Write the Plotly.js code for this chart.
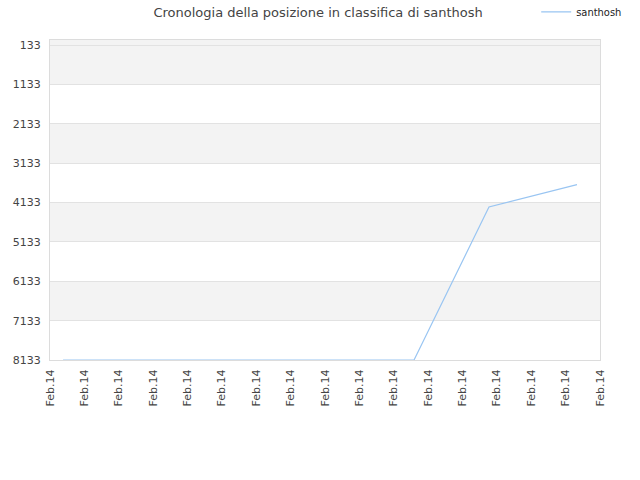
<!DOCTYPE html>
<html>
<head>
<meta charset="utf-8">
<script src="https://cdn.plot.ly/plotly-3.0.1.min.js"></script>
<style>
  html, body { margin: 0; padding: 0; background: #fff; }
  #chart { width: 640px; height: 480px; }
</style>
</head>
<body>
<div id="chart"></div>
<script>
// ----- data -----
const playerName = "santhosh";
const tickPositions = [0, 1, 2, 3, 4, 5, 6, 7, 8, 9, 10, 11, 12, 13, 14, 15, 16];
const tickLabels = tickPositions.map(() => "Feb.14");
const timeValues = [0.38, 10.59, 12.77, 15.33];   // position along the time axis
const rankValues = [8133, 8133, 4245, 3676];      // classifica (lower = better)
const rankTicks = [133, 1133, 2133, 3133, 4133, 5133, 6133, 7133, 8133];

// ----- alternating bands (gray / white) between rank ticks -----
const bands = [];
bands.push({ y0: 0, y1: rankTicks[0] });
for (let i = 0; i < rankTicks.length - 1; i += 2) {
  bands.push({ y0: rankTicks[i], y1: rankTicks[i + 1] });
}
const shapes = bands.map(b => ({
  type: "rect", xref: "paper", yref: "y",
  x0: 0, x1: 1, y0: b.y0, y1: b.y1,
  fillcolor: "#f3f3f3", line: { width: 0 }, layer: "below"
}));

const trace = {
  name: playerName,
  type: "scatter",
  mode: "lines",
  x: timeValues,
  y: rankValues,
  line: { color: "#99c5f2", width: 1.2 },
  hoverinfo: "skip"
};

const layout = {
  width: 640, height: 480,
  margin: { l: 50, r: 40, t: 40, b: 120, autoexpand: false },
  paper_bgcolor: "#ffffff",
  plot_bgcolor: "#ffffff",
  font: { family: "DejaVu Sans, sans-serif", size: 11, color: "#444" },
  title: {
    text: "Cronologia della posizione in classifica di santhosh",
    font: { family: "DejaVu Sans, sans-serif", size: 13, color: "#444" },
    x: 0.497, xref: "container", xanchor: "center",
    y: 0.975, yref: "container", yanchor: "middle"
  },
  showlegend: true,
  legend: {
    x: 0.884, xanchor: "left", y: 1.088, yanchor: "middle",
    font: { family: "DejaVu Sans Condensed, DejaVu Sans, sans-serif", size: 11, color: "#222" },
    bgcolor: "rgba(0,0,0,0)",
    itemwidth: 30
  },
  xaxis: {
    range: [0, 16],
    tickmode: "array",
    tickvals: tickPositions,
    ticktext: tickLabels,
    tickangle: -90,
    ticks: "",
    showgrid: false,
    zeroline: false,
    showline: true, linecolor: "#dcdcdc", linewidth: 1, mirror: true,
    tickfont: { size: 11, color: "#444" },
    ticklabelstandoff: 4
  },
  yaxis: {
    range: [8133, 0],
    tickmode: "array",
    tickvals: rankTicks,
    ticktext: rankTicks.map(String),
    ticks: "",
    showgrid: true, gridcolor: "#e2e2e2", gridwidth: 1,
    zeroline: false,
    showline: true, linecolor: "#dcdcdc", linewidth: 1, mirror: true,
    tickfont: { size: 11, color: "#444" },
    ticklabelstandoff: 6
  },
  shapes: shapes
};

Plotly.newPlot("chart", [trace], layout, { displayModeBar: false, staticPlot: true });
</script>
</body>
</html>
